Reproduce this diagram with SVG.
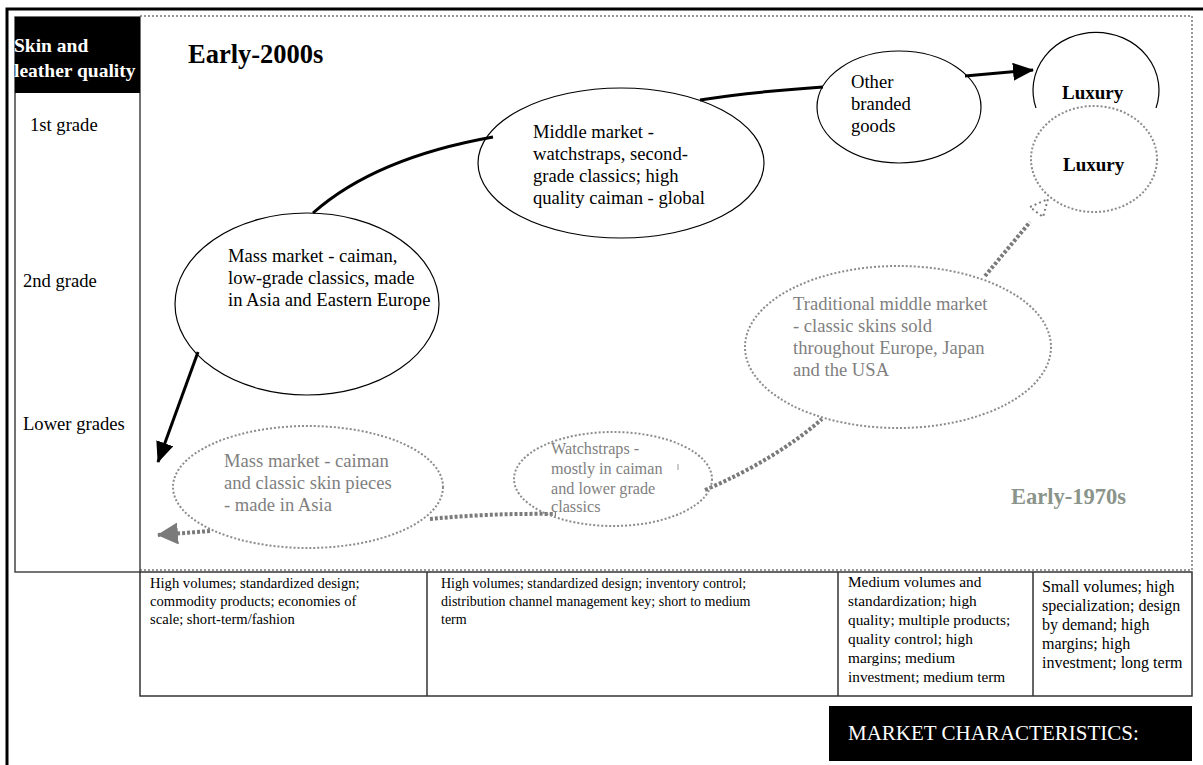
<svg xmlns="http://www.w3.org/2000/svg" width="1203" height="765" viewBox="0 0 1203 765">
<defs>
<style>
.t{font-family:"Liberation Serif","Times New Roman",serif;font-size:18.6px;fill:#000}
.g{fill:#7f7f7f}
.b{font-weight:bold}
.s{font-size:14px}
.e{fill:none;stroke:#000;stroke-width:1.2}
.d{fill:none;stroke:#8c8c8c;stroke-width:2;stroke-dasharray:2 2}
.ak{fill:none;stroke:#000;stroke-width:3}
.ag{fill:none;stroke:#7a7a7a;stroke-width:4;stroke-dasharray:3 2}
</style>
<marker id="mk" markerWidth="22" markerHeight="18" refX="20" refY="9" orient="auto" markerUnits="userSpaceOnUse"><path d="M0,0 L21,9 L0,18 Z" fill="#000"/></marker>
<marker id="mg" markerWidth="22" markerHeight="22" refX="20" refY="11" orient="auto" markerUnits="userSpaceOnUse"><path d="M0,0 L21,11 L0,22 Z" fill="#7a7a7a"/></marker>
</defs>
<rect width="1203" height="765" fill="#fff"/>
<g id="frame">
<path d="M7,765 V9 H1203" fill="none" stroke="#000" stroke-width="3"/>
<path d="M140,16 H1192 V570 H140" fill="none" stroke="#999" stroke-width="2" stroke-dasharray="2 2"/>
</g>
<g id="quality-axis">
<rect x="15" y="17" width="125" height="555" fill="#fff" stroke="#444" stroke-width="1.5"/>
<rect x="15" y="17" width="125" height="76" fill="#000"/>
<text class="t b" x="14" y="52" style="fill:#fff;font-size:19.5px">Skin and</text>
<text class="t b" x="14" y="77" style="fill:#fff;font-size:19.5px">leather quality</text>
<text class="t" x="30" y="131">1st grade</text>
<text class="t" x="23" y="287">2nd grade</text>
<text class="t" x="23" y="430">Lower grades</text>
</g>
<text id="early2000" class="t b" x="188" y="63" style="font-size:26.5px">Early-2000s</text>
<text id="early1970" class="t b" x="1011" y="504" style="font-size:22.5px;fill:#8a948a">Early-1970s</text>
<g id="connectors">
<path class="ak" d="M313,213 Q375,158 493,137"/>
<path class="ak" d="M700,100 Q750,92 823,87"/>
<path class="ak" d="M965,76 L1033,70" marker-end="url(#mk)"/>
<path class="ak" d="M198,352 L158,462" marker-end="url(#mk)"/>
<path class="ag" d="M210,531 L158,535" marker-end="url(#mg)"/>
<path class="ag" d="M430,519 Q490,513 556,514"/>
<path class="ag" d="M705,490 Q775,460 822,419"/>
<path class="ag" d="M985,276 L1030,222"/>
<path d="M1030,207 L1048,199 L1043,217 Z" fill="none" stroke="#7a7a7a" stroke-width="2" stroke-dasharray="2 3"/>
</g>
<g id="mass-2000">
<ellipse class="e" cx="307" cy="304" rx="132" ry="91"/>
<text class="t" x="228" y="262">Mass market - caiman,</text>
<text class="t" x="228" y="284">low-grade classics, made</text>
<text class="t" x="228" y="306">in Asia and Eastern Europe</text>
</g>
<g id="middle-2000">
<ellipse class="e" cx="621" cy="163" rx="143" ry="75"/>
<text class="t" x="533" y="138">Middle market -</text>
<text class="t" x="533" y="160">watchstraps, second-</text>
<text class="t" x="533" y="182">grade classics; high</text>
<text class="t" x="533" y="204">quality caiman - global</text>
</g>
<g id="other-branded">
<ellipse class="e" cx="899" cy="107" rx="82" ry="56"/>
<text class="t" x="851" y="88">Other</text>
<text class="t" x="851" y="110">branded</text>
<text class="t" x="851" y="132">goods</text>
</g>
<g id="luxury-2000">
<path class="e" d="M1036,108 A63,58 0 1 1 1156,108"/>
<text class="t b" x="1062" y="99" style="font-size:19px">Luxury</text>
</g>
<g id="luxury-1970">
<ellipse class="d" cx="1094" cy="159" rx="63" ry="53"/>
<text class="t b" x="1063" y="171" style="font-size:19px">Luxury</text>
</g>
<g id="traditional-1970">
<ellipse class="d" cx="898" cy="347" rx="153" ry="81"/>
<text class="t g" x="793" y="310">Traditional middle market</text>
<text class="t g" x="793" y="332">- classic skins sold</text>
<text class="t g" x="793" y="354">throughout Europe, Japan</text>
<text class="t g" x="793" y="376">and the USA</text>
</g>
<g id="watchstraps-1970">
<ellipse class="d" cx="613" cy="479" rx="99" ry="47"/>
<text class="t g" x="551" y="454" style="font-size:16.2px">Watchstraps -</text>
<text class="t g" x="551" y="474" style="font-size:16.2px">mostly in caiman</text>
<text class="t g" x="551" y="494" style="font-size:16.2px">and lower grade</text>
<text class="t g" x="551" y="512" style="font-size:16.2px">classics</text>
<line x1="678" y1="464" x2="678" y2="470" stroke="#999" stroke-width="1"/>
</g>
<g id="mass-1970">
<ellipse class="d" cx="308" cy="487" rx="135" ry="61"/>
<text class="t g" x="224" y="467">Mass market - caiman</text>
<text class="t g" x="224" y="489">and classic skin pieces</text>
<text class="t g" x="224" y="511">- made in Asia</text>
</g>
<g id="characteristics">
<rect x="140" y="572" width="1052" height="124" fill="#fff" stroke="#333" stroke-width="1.5"/>
<line x1="427" y1="572" x2="427" y2="696" stroke="#333" stroke-width="1.5"/>
<line x1="838" y1="572" x2="838" y2="696" stroke="#333" stroke-width="1.5"/>
<line x1="1033" y1="572" x2="1033" y2="696" stroke="#333" stroke-width="1.5"/>
<text class="t s" x="150" y="588" style="font-size:14.6px">High volumes; standardized design;</text>
<text class="t s" x="150" y="606" style="font-size:14.6px">commodity products; economies of</text>
<text class="t s" x="150" y="624" style="font-size:14.6px">scale; short-term/fashion</text>
<text class="t s" x="441" y="588">High volumes; standardized design; inventory control;</text>
<text class="t s" x="441" y="606">distribution channel management key; short to medium</text>
<text class="t s" x="441" y="624">term</text>
<text class="t s" x="848" y="587" style="font-size:15.3px">Medium volumes and</text>
<text class="t s" x="848" y="606" style="font-size:15.3px">standardization; high</text>
<text class="t s" x="848" y="625" style="font-size:15.3px">quality; multiple products;</text>
<text class="t s" x="848" y="644" style="font-size:15.3px">quality control; high</text>
<text class="t s" x="848" y="663" style="font-size:15.3px">margins; medium</text>
<text class="t s" x="848" y="682" style="font-size:15.3px">investment; medium term</text>
<text class="t s" x="1042" y="592" style="font-size:16px">Small volumes; high</text>
<text class="t s" x="1042" y="611" style="font-size:16px">specialization; design</text>
<text class="t s" x="1042" y="630" style="font-size:16px">by demand; high</text>
<text class="t s" x="1042" y="649" style="font-size:16px">margins; high</text>
<text class="t s" x="1042" y="668" style="font-size:16px">investment; long term</text>
</g>
<g id="market-label">
<rect x="829" y="706" width="363" height="55" fill="#000"/>
<text class="t" x="848" y="740" style="fill:#fff;font-size:21px">MARKET CHARACTERISTICS:</text>
</g>
</svg>
